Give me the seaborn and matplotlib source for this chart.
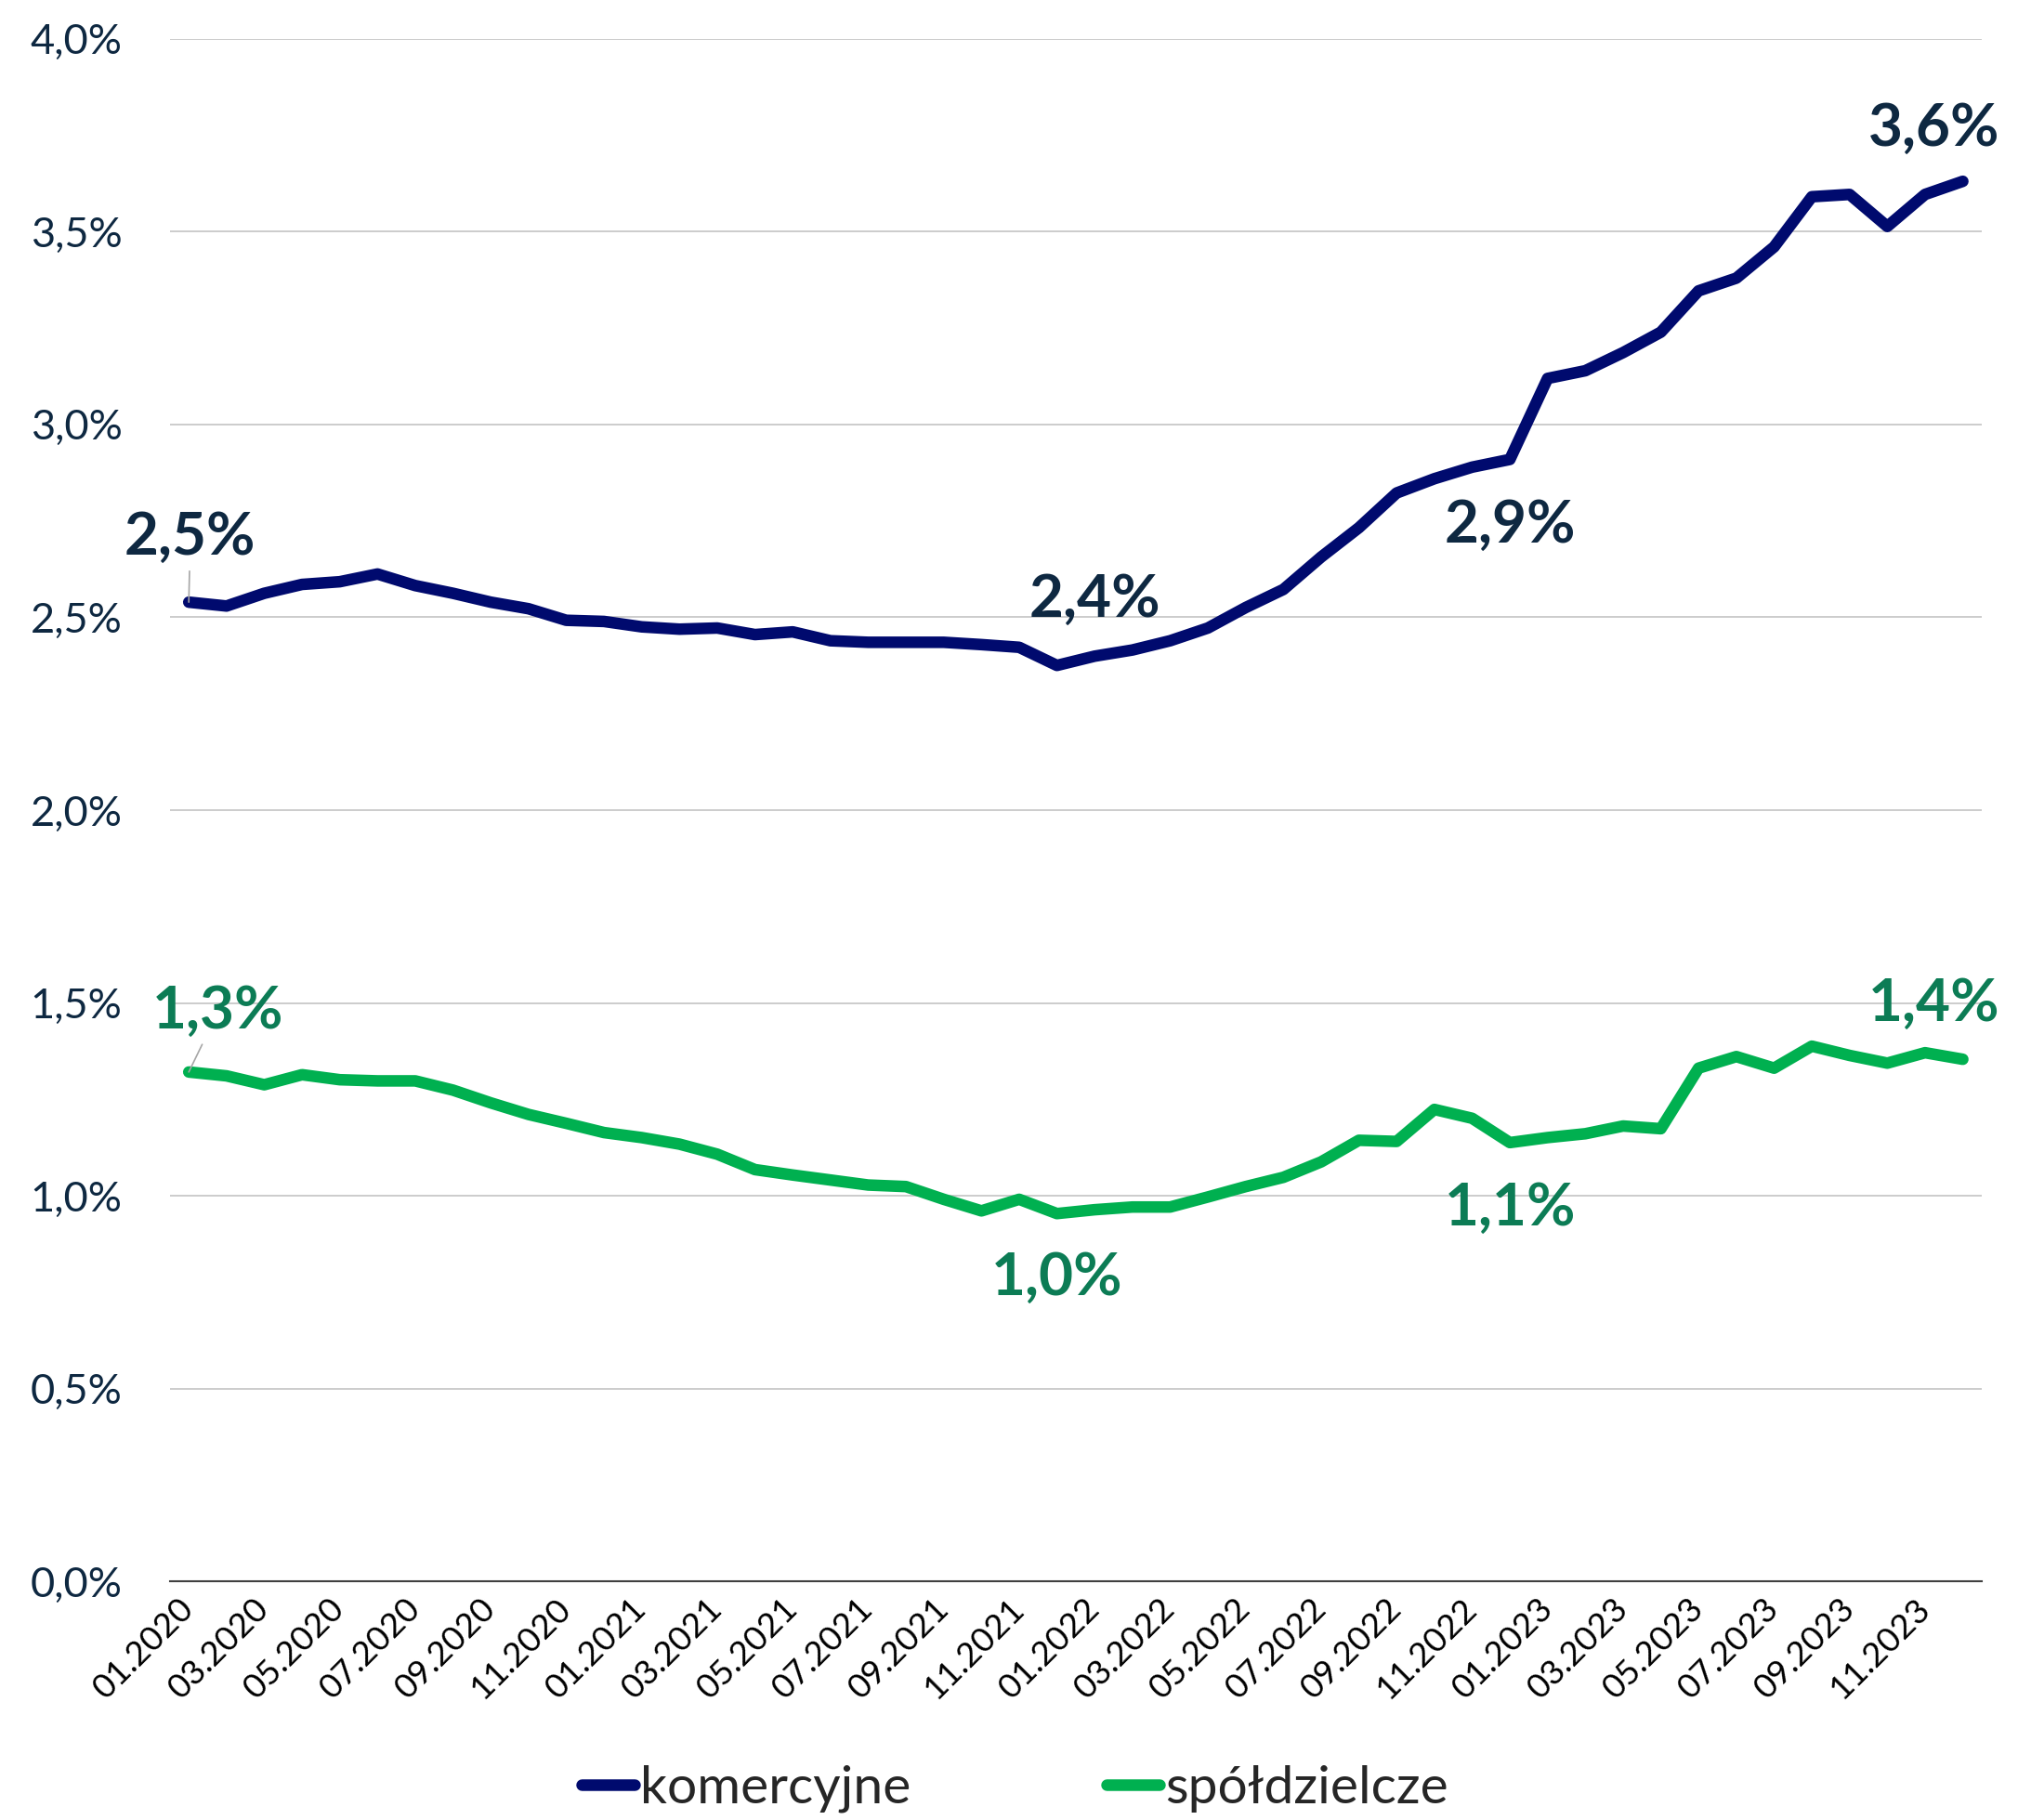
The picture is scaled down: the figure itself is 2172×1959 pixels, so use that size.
import numpy as np
import pandas as pd
import matplotlib
matplotlib.use('Agg')
import matplotlib.pyplot as plt
import seaborn as sns

# miesiące 01.2020 - 12.2023
months = [f'{m:02d}.{y}' for y in range(2020, 2024) for m in range(1, 13)]

komercyjne = [2.539, 2.529, 2.562, 2.585, 2.592, 2.612, 2.582, 2.562, 2.539, 2.522,
              2.492, 2.489, 2.475, 2.469, 2.472, 2.455, 2.462, 2.439, 2.435, 2.435,
              2.435, 2.429, 2.422, 2.375, 2.399, 2.415, 2.439, 2.472, 2.525, 2.572,
              2.656, 2.732, 2.822, 2.859, 2.889, 2.909, 3.119, 3.139, 3.186, 3.239,
              3.346, 3.379, 3.460, 3.590, 3.596, 3.513, 3.596, 3.630]

spoldzielcze = [1.321, 1.311, 1.288, 1.314, 1.301, 1.298, 1.298, 1.274, 1.241, 1.211,
                1.188, 1.164, 1.151, 1.134, 1.108, 1.068, 1.054, 1.041, 1.028, 1.024,
                0.991, 0.961, 0.991, 0.954, 0.964, 0.971, 0.971, 0.997, 1.024, 1.048,
                1.088, 1.144, 1.141, 1.224, 1.201, 1.138, 1.151, 1.161, 1.181, 1.174,
                1.331, 1.361, 1.331, 1.388, 1.364, 1.344, 1.371, 1.354]

series_names = ['komercyjne', 'spółdzielcze']

# etykiety danych: indeks punktu
kom_label_idx = [0, 24, 35, 47]
spol_label_idx = [0, 23, 35, 47]

y_ticks = [0.0, 0.5, 1.0, 1.5, 2.0, 2.5, 3.0, 3.5, 4.0]

NAVY = '#000A6E'
GREEN = '#00B050'
NAVY_TXT = '#0E2841'
GREEN_TXT = '#0C7C55'

sns.set_theme(style='white')
plt.rcParams['font.family'] = ['Lato', 'DejaVu Sans']

df = pd.DataFrame({
    'idx': list(range(len(months))) * 2,
    'wartosc': komercyjne + spoldzielcze,
    'seria': [series_names[0]] * len(months) + [series_names[1]] * len(months),
})

fig = plt.figure(figsize=(21.72, 19.59), dpi=100)
ax = fig.add_axes([0.0842, 0.1310, 0.8978, 0.8478])

sns.lineplot(data=df, x='idx', y='wartosc', hue='seria',
             palette={series_names[0]: NAVY, series_names[1]: GREEN},
             linewidth=9, solid_capstyle='round', ax=ax)

handles, labels = ax.get_legend_handles_labels()
ax.get_legend().remove()

ax.set_xlim(-0.5, len(months) - 0.5)
ax.set_ylim(0, 4)
ax.set_xlabel('')
ax.set_ylabel('')

ax.set_yticks(y_ticks)
ax.set_yticklabels([f'{v:.1f}'.replace('.', ',') + '%' for v in y_ticks])
ax.yaxis.grid(True, color='#BFBFBF', linewidth=1.1)
ax.xaxis.grid(False)
ax.set_axisbelow(True)

for s in ['top', 'right', 'left']:
    ax.spines[s].set_visible(False)
ax.spines['bottom'].set_color('#404040')
ax.spines['bottom'].set_linewidth(1.5)

ax.set_xticks(range(0, len(months), 2))
ax.set_xticklabels(months[::2], rotation=45, ha='right', va='center',
                   rotation_mode='anchor', fontsize=26.5, color='black')
ax.set_xticks(np.arange(-0.5, len(months), 1), minor=True)
ax.tick_params(axis='x', which='major', length=0, pad=17)
ax.tick_params(axis='x', which='minor', length=9.5, width=1.3, color='#404040', direction='out')
ax.tick_params(axis='y', length=0, pad=37, labelsize=32.5, labelcolor=NAVY_TXT)


def fmt(v):
    return f'{v:.1f}'.replace('.', ',') + '%'


# etykiety - komercyjne
kom_dx = [0.04, 0.0, 0.0, -0.76]
kom_dy = [0.167, 0.146, -0.17, 0.136]
for k, i in enumerate(kom_label_idx):
    v = komercyjne[i]
    if k == 0:
        ax.annotate(fmt(v), xy=(i, v), xytext=(i + kom_dx[k], v + kom_dy[k]),
                    ha='center', va='center', fontsize=46, fontweight='bold', color=NAVY_TXT,
                    arrowprops=dict(arrowstyle='-', color='#A6A6A6', lw=1.2, shrinkA=3, shrinkB=0))
    else:
        ax.text(i + kom_dx[k], v + kom_dy[k], fmt(v), ha='center', va='center',
                fontsize=46, fontweight='bold', color=NAVY_TXT)

# etykiety - spółdzielcze
spol_dx = [0.78, 0.0, 0.0, -0.76]
spol_dy = [0.157, -0.167, -0.171, 0.144]
for k, i in enumerate(spol_label_idx):
    v = spoldzielcze[i]
    if k == 0:
        ax.annotate(fmt(v), xy=(i, v), xytext=(i + spol_dx[k], v + spol_dy[k]),
                    ha='center', va='center', fontsize=46, fontweight='bold', color=GREEN_TXT,
                    arrowprops=dict(arrowstyle='-', color='#A6A6A6', lw=1.2, shrinkA=3, shrinkB=0))
    else:
        ax.text(i + spol_dx[k], v + spol_dy[k], fmt(v), ha='center', va='center',
                fontsize=46, fontweight='bold', color=GREEN_TXT)

leg = fig.legend(handles, labels, loc='center', bbox_to_anchor=(0.503, 0.017), ncol=2,
                 frameon=False, fontsize=41, handlelength=1.0, handletextpad=0.1,
                 columnspacing=3.7)
for line in leg.get_lines():
    line.set_linewidth(9)
    line.set_solid_capstyle('round')

fig.savefig('out.png', dpi=100)
